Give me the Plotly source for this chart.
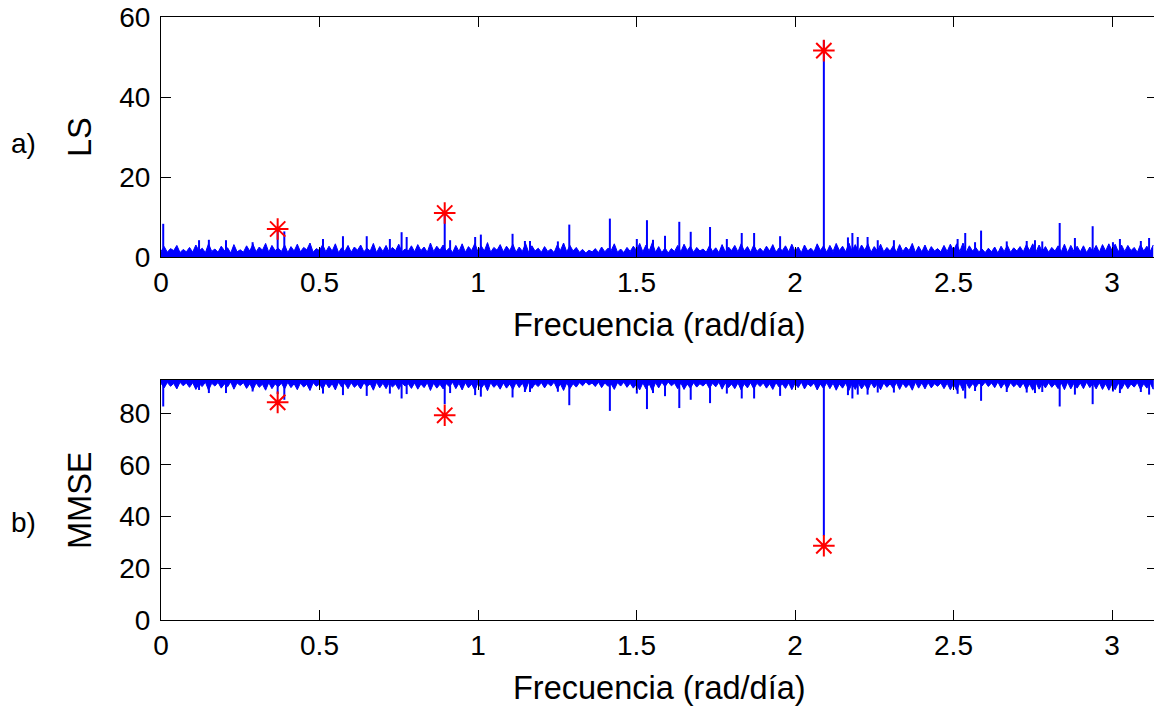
import numpy as np
import plotly.graph_objects as go

# ---------------- data ----------------
FREQ_STEP = 0.01  # rad/day grid of the noise envelope

# LS periodogram: upper envelope of the noise floor (0.00 .. 3.13)
LS_NOISE = [
    1.4, 2.6, 1.2, 2.1, 1.6, 2.9, 1.1, 1.9, 1.3, 2.4,
    1.2, 3.0, 1.5, 2.2, 1.1, 3.3, 1.4, 2.0, 1.2, 2.7,
    1.6, 2.3, 1.0, 3.1, 1.3, 1.8, 1.2, 2.8, 1.5, 3.2,
    1.3, 2.5, 1.7, 3.4, 1.2, 2.9, 1.6, 2.2, 1.4, 3.0,
    1.1, 2.6, 1.5, 3.2, 1.3, 2.4, 1.8, 3.5, 1.2, 2.1,
    1.6, 3.1, 1.3, 2.7, 1.5, 3.3, 1.1, 2.3, 1.4, 2.9,
    1.2, 2.5, 1.7, 3.0, 1.3, 2.2, 1.5, 3.4, 1.1, 2.6,
    1.4, 2.9, 1.2, 2.4, 1.6, 3.2, 1.3, 2.0, 1.5, 2.8,
    1.3, 3.1, 1.6, 2.5, 1.2, 3.5, 1.4, 2.7, 1.7, 3.0,
    1.5, 2.3, 1.1, 2.9, 1.4, 3.3, 1.2, 2.6, 1.6, 3.4,
    1.3, 2.8, 1.5, 3.6, 1.2, 2.4, 1.7, 3.1, 1.3, 2.7,
    1.6, 3.2, 1.2, 2.5, 1.4, 3.4, 1.1, 2.8, 1.5, 2.2,
    1.2, 2.6, 1.4, 2.0, 1.1, 3.0, 1.6, 3.5, 1.3, 2.9,
    1.5, 2.4, 1.2, 1.9, 1.0, 1.7, 1.3, 2.1, 1.1, 2.5,
    1.3, 2.2, 1.6, 3.3, 1.2, 2.0, 1.1, 2.4, 1.4, 2.7,
    1.6, 3.4, 1.3, 3.0, 1.5, 3.6, 1.2, 2.6, 1.1, 2.3,
    1.0, 2.1, 1.4, 2.9, 1.3, 3.2, 1.6, 2.7, 1.2, 2.4,
    1.5, 2.0, 1.2, 2.8, 1.4, 2.3, 1.1, 3.1, 1.3, 2.5,
    1.6, 2.9, 1.3, 3.3, 1.5, 2.6, 1.2, 3.0, 1.4, 2.2,
    1.3, 2.7, 1.5, 3.1, 1.2, 2.3, 1.6, 2.8, 1.3, 3.2,
    1.4, 2.5, 1.1, 3.0, 1.5, 2.2, 1.3, 3.3, 1.6, 2.8,
    1.2, 2.9, 1.4, 3.4, 1.6, 2.7, 1.3, 3.5, 1.5, 3.1,
    1.4, 3.0, 1.7, 3.3, 1.2, 2.6, 1.5, 3.2, 1.3, 2.4,
    1.5, 2.8, 1.2, 3.1, 1.4, 2.5, 1.6, 3.4, 1.1, 2.7,
    1.3, 3.0, 1.2, 2.6, 1.5, 2.1, 1.3, 2.9, 1.4, 3.2,
    1.6, 3.3, 1.4, 3.5, 1.2, 2.8, 1.5, 2.4, 1.3, 2.0,
    1.1, 2.2, 1.3, 2.5, 1.0, 2.7, 1.4, 2.9, 1.2, 2.3,
    1.5, 2.6, 1.3, 3.1, 1.6, 3.3, 1.2, 3.0, 1.4, 2.6,
    1.2, 2.4, 1.5, 2.8, 1.3, 3.2, 1.1, 2.9, 1.4, 2.7,
    1.3, 2.8, 1.1, 2.5, 1.4, 2.9, 1.2, 3.1, 1.5, 3.3,
    1.6, 3.2, 1.3, 3.0, 1.4, 2.9, 1.6, 2.4, 1.2, 3.1,
    1.5, 2.7, 1.3, 3.0,
]

# MMSE: lower envelope of the noise band (0.00 .. 3.13)
MMSE_NOISE = [
    91.6, 89.8, 91.9, 90.4, 91.5, 89.4, 92.0, 90.6, 91.7, 90.0,
    91.8, 89.2, 91.4, 90.3, 92.0, 88.9, 91.6, 90.5, 91.9, 89.7,
    91.3, 90.2, 92.1, 89.3, 91.7, 90.7, 91.8, 89.6, 91.4, 89.1,
    91.7, 90.0, 91.2, 88.9, 91.8, 89.5, 91.3, 90.2, 91.6, 89.4,
    91.9, 89.9, 91.4, 89.1, 91.7, 90.1, 91.2, 88.8, 91.8, 90.4,
    91.3, 89.3, 91.7, 89.8, 91.4, 89.0, 92.0, 90.1, 91.6, 89.5,
    91.8, 90.0, 91.2, 89.4, 91.7, 90.3, 91.4, 88.9, 92.0, 89.8,
    91.6, 89.5, 91.8, 90.1, 91.3, 89.2, 91.7, 90.5, 91.4, 89.6,
    91.7, 89.3, 91.3, 89.9, 91.8, 88.8, 91.6, 89.7, 91.2, 89.4,
    91.4, 90.2, 92.0, 89.5, 91.6, 89.0, 91.8, 89.8, 91.3, 88.9,
    91.7, 89.6, 91.4, 88.7, 91.8, 90.0, 91.2, 89.3, 91.7, 89.7,
    91.3, 89.2, 91.8, 89.9, 91.6, 88.9, 92.0, 89.6, 91.4, 90.3,
    91.8, 89.8, 91.6, 90.5, 92.0, 89.4, 91.3, 88.8, 91.7, 89.5,
    91.4, 90.1, 91.8, 90.6, 92.1, 90.9, 91.7, 90.3, 92.0, 89.9,
    91.7, 90.4, 91.3, 89.2, 91.8, 90.5, 92.0, 90.0, 91.6, 89.7,
    91.3, 89.0, 91.7, 89.4, 91.4, 88.7, 91.8, 89.8, 92.0, 90.2,
    92.1, 90.6, 91.6, 89.5, 91.7, 89.2, 91.3, 89.7, 91.8, 90.1,
    91.4, 90.5, 91.8, 89.6, 91.6, 90.2, 92.0, 89.3, 91.7, 89.9,
    91.3, 89.5, 91.7, 89.0, 91.4, 89.8, 91.8, 89.4, 91.6, 90.3,
    91.7, 89.7, 91.4, 89.2, 91.8, 90.1, 91.3, 89.6, 91.7, 89.1,
    91.6, 89.9, 92.0, 89.4, 91.4, 90.3, 91.7, 89.0, 91.3, 89.6,
    91.8, 89.5, 91.6, 88.9, 91.3, 89.7, 91.7, 88.8, 91.4, 89.2,
    91.6, 89.4, 91.2, 89.0, 91.8, 89.8, 91.4, 89.1, 91.7, 90.0,
    91.4, 89.6, 91.8, 89.2, 91.6, 89.9, 91.3, 88.9, 92.0, 89.7,
    91.7, 89.4, 91.8, 89.8, 91.4, 90.4, 91.7, 89.5, 91.6, 89.1,
    91.3, 88.9, 91.6, 88.7, 91.8, 89.6, 91.4, 90.0, 91.7, 90.5,
    92.0, 90.3, 91.7, 89.9, 92.1, 89.7, 91.6, 89.5, 91.8, 90.2,
    91.4, 89.8, 91.7, 89.2, 91.3, 88.9, 91.8, 89.3, 91.6, 89.8,
    91.8, 90.0, 91.4, 89.5, 91.7, 89.1, 92.0, 89.4, 91.6, 89.7,
    91.7, 89.5, 92.0, 89.9, 91.6, 89.4, 91.8, 89.2, 91.4, 88.9,
    91.3, 89.1, 91.7, 89.3, 91.6, 89.5, 91.3, 90.1, 91.8, 89.2,
    91.4, 89.7, 91.7, 89.3,
]
MMSE_TOP = 92.85  # top of the MMSE band (maximum of the curve)

# Isolated spikes of the LS periodogram (frequency, value)
LS_SPIKE_F = [0.007, 0.120, 0.151, 0.205, 0.289, 0.368, 0.389, 0.511, 0.574, 0.649,
              0.722, 0.759, 0.775, 0.895, 0.912, 0.991, 1.009, 1.109, 1.148, 1.164,
              1.252, 1.288, 1.416, 1.501, 1.533, 1.552, 1.590, 1.635, 1.671, 1.732,
              1.785, 1.832, 1.871, 1.953, 2.091, 2.167, 2.181, 2.198, 2.229, 2.261,
              2.312, 2.513, 2.537, 2.568, 2.587, 2.668, 2.731, 2.757, 2.780, 2.835,
              2.883, 2.939, 3.003, 3.025, 3.091, 3.117]
LS_SPIKE_V = [8.3, 4.2, 4.3, 4.2, 3.7, 7.0, 6.4, 4.5, 5.2, 5.2,
              4.5, 6.2, 5.0, 11.0, 4.2, 5.0, 5.6, 5.8, 4.0, 4.0,
              3.9, 8.1, 9.6, 4.5, 9.2, 4.3, 5.3, 8.8, 6.3, 7.5,
              4.5, 6.0, 6.0, 5.2, 54.2, 4.9, 6.0, 5.0, 5.0, 4.2,
              4.2, 4.5, 6.0, 3.7, 6.6, 3.9, 4.0, 4.2, 3.9, 8.5,
              4.75, 7.7, 3.7, 4.5, 4.0, 4.75]

# Isolated dips of the MMSE curve (frequency, value)
MMSE_DIP_F = [0.007, 0.120, 0.151, 0.205, 0.289, 0.368, 0.389, 0.511, 0.574, 0.649,
              0.722, 0.759, 0.775, 0.895, 0.912, 0.991, 1.009, 1.109, 1.148, 1.164,
              1.252, 1.288, 1.416, 1.501, 1.533, 1.552, 1.590, 1.635, 1.671, 1.732,
              1.785, 1.832, 1.871, 1.953, 2.091, 2.167, 2.181, 2.198, 2.229, 2.261,
              2.312, 2.513, 2.537, 2.568, 2.587, 2.668, 2.731, 2.757, 2.780, 2.835,
              2.883, 2.939, 3.003, 3.025, 3.091, 3.117]
MMSE_DIP_V = [82.6, 89.0, 87.8, 87.8, 88.4, 87.4, 85.2, 87.6, 87.0, 86.7,
              87.6, 85.7, 87.4, 83.5, 87.8, 87.0, 86.4, 86.1, 88.2, 88.2,
              88.3, 83.1, 80.9, 87.6, 81.6, 87.8, 86.6, 82.0, 85.2, 83.9,
              87.6, 85.7, 85.7, 86.7, 32.6, 87.0, 85.7, 87.2, 87.2, 88.0,
              88.0, 87.5, 85.7, 88.6, 84.8, 88.2, 88.0, 87.8, 88.2, 82.6,
              87.2, 83.5, 88.4, 87.8, 88.2, 87.2]

# Detected peaks (red asterisks)
PEAK_F = [0.368, 0.895, 2.091]
PEAK_LS = [7.0, 11.0, 51.6]
PEAK_MMSE = [84.2, 79.2, 28.7]

X_TICKS = [0, 0.5, 1, 1.5, 2, 2.5, 3]
X_TICK_TEXT = ["0", "0.5", "1", "1.5", "2", "2.5", "3"]
LS_TICKS = [0, 20, 40, 60]
MMSE_TICKS = [0, 20, 40, 60, 80]
X_MAX = 3.1325  # visible part of [0, pi]

# ---------------- figure ----------------
BLUE = "#0000ff"
RED = "#ff0000"
FONT = "Liberation Sans, Arial, Helvetica, sans-serif"

freqs = list(np.arange(len(LS_NOISE)) * FREQ_STEP)


def stems(fs, vs, base):
    xs, ys = [], []
    for f, v in zip(fs, vs):
        xs += [f, f, None]
        ys += [base, v, None]
    return xs, ys


fig = go.Figure()

# --- a) LS ---
fig.add_trace(go.Scatter(x=freqs, y=LS_NOISE, mode="lines", fill="tozeroy",
                         fillcolor=BLUE, line=dict(color=BLUE, width=1),
                         xaxis="x", yaxis="y", showlegend=False, hoverinfo="skip"))
sx, sy = stems(LS_SPIKE_F, LS_SPIKE_V, 0)
fig.add_trace(go.Scatter(x=sx, y=sy, mode="lines", line=dict(color=BLUE, width=2),
                         xaxis="x", yaxis="y", showlegend=False, hoverinfo="skip"))
fig.add_trace(go.Scatter(x=PEAK_F, y=PEAK_LS, mode="markers",
                         marker=dict(symbol="asterisk-open", size=18,
                                     line=dict(color=RED, width=2), color=RED),
                         xaxis="x", yaxis="y", showlegend=False))

# --- b) MMSE ---
fig.add_trace(go.Scatter(x=freqs + freqs[::-1], y=MMSE_NOISE + [MMSE_TOP] * len(freqs),
                         mode="lines", fill="toself", fillcolor=BLUE,
                         line=dict(color=BLUE, width=1),
                         xaxis="x2", yaxis="y2", showlegend=False, hoverinfo="skip"))
dx, dy = stems(MMSE_DIP_F, MMSE_DIP_V, MMSE_TOP)
fig.add_trace(go.Scatter(x=dx, y=dy, mode="lines", line=dict(color=BLUE, width=2),
                         xaxis="x2", yaxis="y2", showlegend=False, hoverinfo="skip"))
fig.add_trace(go.Scatter(x=PEAK_F, y=PEAK_MMSE, mode="markers",
                         marker=dict(symbol="asterisk-open", size=18,
                                     line=dict(color=RED, width=2), color=RED),
                         xaxis="x2", yaxis="y2", showlegend=False))

# invisible traces so the right-hand tick axes are drawn
fig.add_trace(go.Scatter(x=[None], y=[None], xaxis="x", yaxis="y3", showlegend=False))
fig.add_trace(go.Scatter(x=[None], y=[None], xaxis="x2", yaxis="y4", showlegend=False))

# layout in pixels
W, H = 1154, 709
L, R, T, B = 161, 0, 17, 89
PW, PH = W - L - R, H - T - B


def px(xp):
    return (xp - L) / PW


def py(yp):
    return (H - B - yp) / PH


top_dom = [py(257), 1.0]
bot_dom = [0.0, py(380)]

tickfont = dict(family=FONT, size=28, color="black")
labfont = dict(family=FONT, size=32.5, color="black")

xcommon = dict(range=[0, X_MAX], tickvals=X_TICKS, ticktext=X_TICK_TEXT,
               ticks="inside", ticklen=10, tickwidth=1, tickcolor="black",
               showline=True, linecolor="black", linewidth=1, mirror="ticks",
               showgrid=False, zeroline=False, tickfont=tickfont,
               ticklabelstandoff=0, automargin=False)
ycommon = dict(ticks="inside", ticklen=10, tickwidth=1, tickcolor="black",
               showline=True, linecolor="black", linewidth=1,
               showgrid=False, zeroline=False, tickfont=tickfont,
               ticklabelstandoff=4, automargin=False)
rcommon = dict(side="right", ticks="inside", ticklen=7, tickwidth=1, tickcolor="black",
               showline=False, showgrid=False, zeroline=False, showticklabels=False,
               automargin=False)

fig.update_layout(
    width=W, height=H,
    margin=dict(l=L, r=R, t=T, b=B, pad=0, autoexpand=False),
    paper_bgcolor="white", plot_bgcolor="white",
    xaxis=dict(domain=[0, 1], anchor="y", **xcommon),
    yaxis=dict(domain=top_dom, anchor="x", range=[0, 60], tickvals=LS_TICKS, **ycommon),
    yaxis3=dict(overlaying="y", anchor="x", range=[0, 60], tickvals=LS_TICKS, **rcommon),
    xaxis2=dict(domain=[0, 1], anchor="y2", **xcommon),
    yaxis2=dict(domain=bot_dom, anchor="x2", range=[0, MMSE_TOP], tickvals=MMSE_TICKS, **ycommon),
    yaxis4=dict(overlaying="y2", anchor="x2", range=[0, MMSE_TOP], tickvals=MMSE_TICKS, **rcommon),
    showlegend=False,
    annotations=[
        dict(text="Frecuencia (rad/día)", x=px(659), y=py(325), xref="paper", yref="paper",
             showarrow=False, xanchor="center", yanchor="middle", font=labfont),
        dict(text="Frecuencia (rad/día)", x=px(659), y=py(688), xref="paper", yref="paper",
             showarrow=False, xanchor="center", yanchor="middle", font=labfont),
        dict(text="LS", x=px(80), y=py(137), xref="paper", yref="paper", textangle=-90,
             showarrow=False, xanchor="center", yanchor="middle", font=labfont),
        dict(text="MMSE", x=px(80), y=py(500), xref="paper", yref="paper", textangle=-90,
             showarrow=False, xanchor="center", yanchor="middle", font=labfont),
        dict(text="a)", x=px(23), y=py(143), xref="paper", yref="paper",
             showarrow=False, xanchor="center", yanchor="middle", font=tickfont),
        dict(text="b)", x=px(23), y=py(522), xref="paper", yref="paper",
             showarrow=False, xanchor="center", yanchor="middle", font=tickfont),
    ],
)

# remove the browser's default 8px page margin so the figure sits at (0, 0)
fig.write_html("out.html",
               config={"displayModeBar": False},
               post_script="document.body.style.margin='0';"
                           "document.body.style.overflow='hidden';")
